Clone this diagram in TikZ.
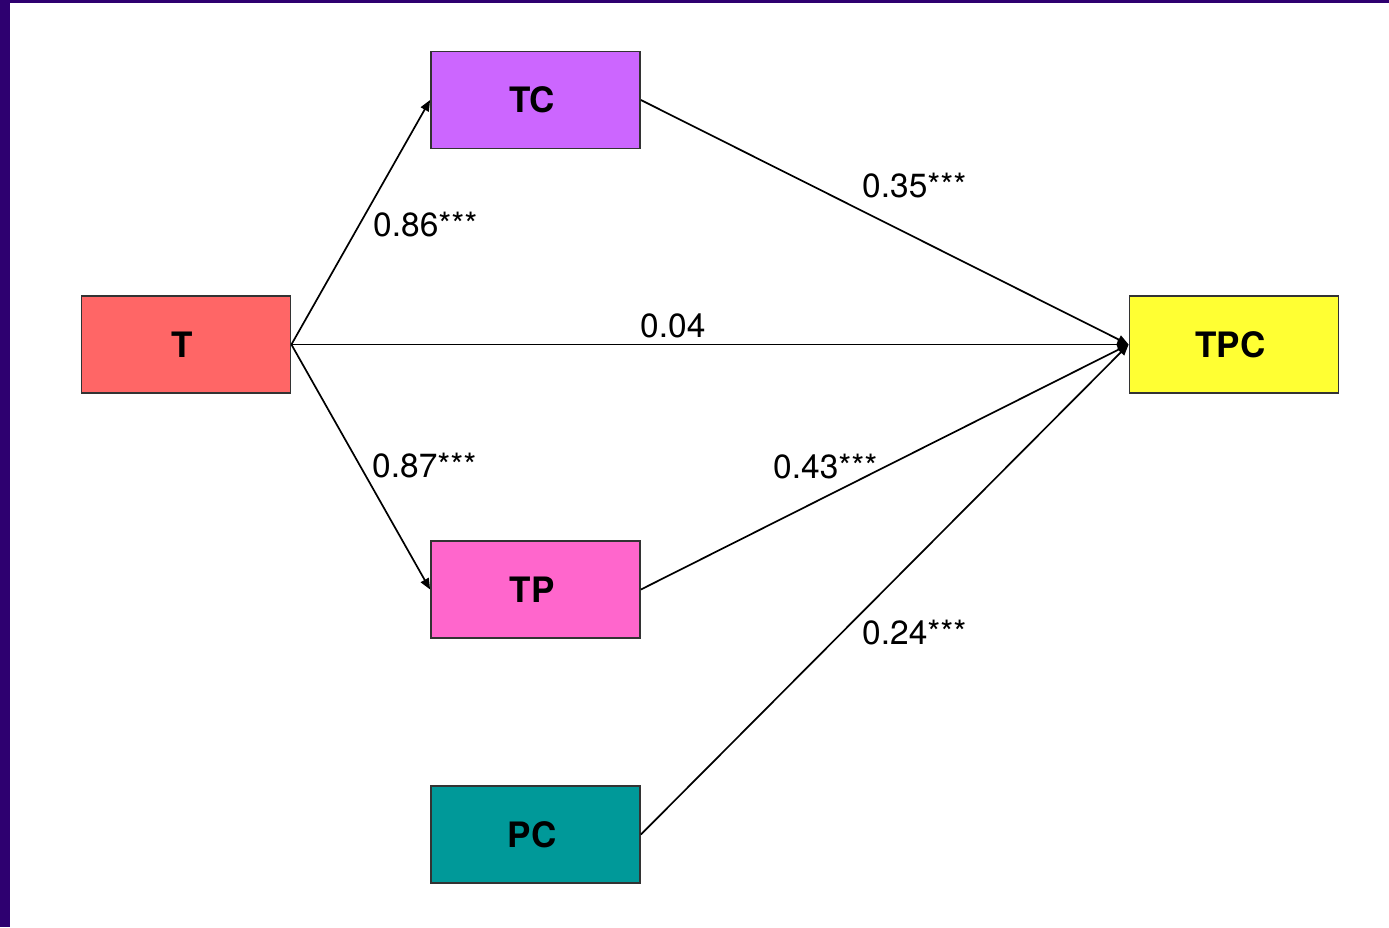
\documentclass[tikz,border=0pt]{standalone}
\usepackage{fontspec}
\setmainfont{TeX Gyre Heros}
\usetikzlibrary{arrows.meta}
\definecolor{frame}{HTML}{2E0070}
\definecolor{cT}{HTML}{FF6666}
\definecolor{cTC}{HTML}{CC66FF}
\definecolor{cTP}{HTML}{FF66CC}
\definecolor{cPC}{HTML}{009999}
\definecolor{cTPC}{HTML}{FFFF33}
\definecolor{edgecol}{HTML}{333333}
\newcommand{\boxtxt}[1]{#1\hspace*{7pt}}
\tikzset{
  box/.style={draw=edgecol, line width=1.8pt, rectangle, minimum width=209pt, minimum height=97pt, inner sep=0pt,
    font=\fontsize{35}{38}\selectfont\bfseries},
  link/.style={draw=black, line width=1.7pt, -{Triangle[length=11pt,width=9pt]}},
  lab/.style={anchor=base west, inner sep=0pt, font=\fontsize{33.5}{36}\selectfont}
}
\begin{document}
\begin{tikzpicture}[x=1pt,y=-1pt]
\useasboundingbox (0,0) rectangle (1389,927);
\fill[white] (0,0) rectangle (1389,927);
\fill[frame] (0,0) rectangle (10,927);
\fill[frame] (0,0) rectangle (1389,2.5);

\node[box, fill=cT]   (T)   at (186,344.5) {\boxtxt{T}};
\node[box, fill=cTC]  (TC)  at (535.5,100) {\boxtxt{TC}};
\node[box, fill=cTP]  (TP)  at (535.5,589.5) {\boxtxt{TP}};
\node[box, fill=cPC]  (PC)  at (535.5,834.5) {\boxtxt{PC}};
\node[box, fill=cTPC] (TPC) at (1234,344.5) {\boxtxt{TPC}};

\draw[link] (T.east) -- (TC.west);
\draw[link] (T.east) -- (TP.west);
\draw[link] (T.east) -- (TPC.west);
\draw[link] (TC.east) -- (TPC.west);
\draw[link] (TP.east) -- (TPC.west);
\draw[link] (PC.east) -- (TPC.west);

\node[lab] (l1) at (373,236) {0.86***};
\node[lab] (l2) at (862,197) {0.35***};
\node[lab] (l3) at (640,337) {0.04};
\node[lab] (l4) at (372,477) {0.87***};
\node[lab] (l5) at (773,478) {0.43***};
\node[lab] (l6) at (862,644) {0.24***};
\end{tikzpicture}
\end{document}
